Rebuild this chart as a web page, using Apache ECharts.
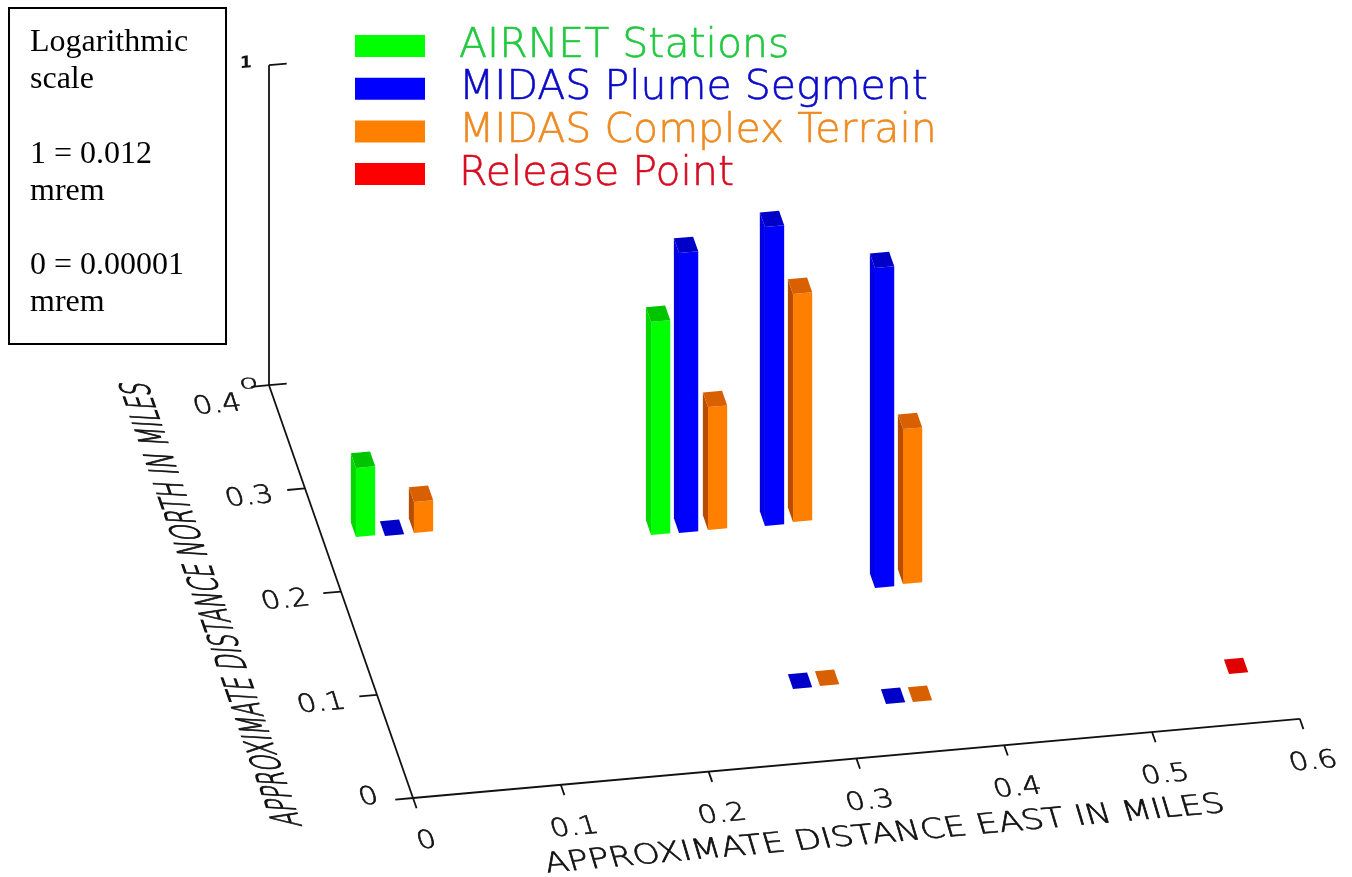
<!DOCTYPE html>
<html><head><meta charset="utf-8">
<style>html,body{margin:0;padding:0;background:#fff}#c{width:1352px;height:877px}</style>
<script src="https://cdn.jsdelivr.net/npm/echarts@6/dist/echarts.min.js"></script>
</head><body><div id="c"></div>
<script>
// ---- data (miles east, miles north, 0-1 log height) ----
const airnetEast  = [0.0223, 0.2164];
const airnetNorth = [0.2500, 0.2272];
const airnetHeight= [0.216, 0.666];
const plumeEast   = [0.0416, 0.2352, 0.2932, 0.3512, 0.2743, 0.3319];
const plumeNorth  = [0.2486, 0.2267, 0.2261, 0.1585, 0.0706, 0.0487];
const plumeHeight = [0, 0.875, 0.934, 1.0, 0, 0];
const terrainEast = [0.0613, 0.2549, 0.3125, 0.3705, 0.2927, 0.3500];
const terrainNorth= [0.2490, 0.2271, 0.2275, 0.1600, 0.0711, 0.0483];
const terrainHeight=[0.097, 0.384, 0.7125, 0.484, 0, 0];
const releaseEast = [0.5638];
const releaseNorth= [0.0480];
const releaseHeight=[0];
const eastTicks  = [0, 0.1, 0.2, 0.3, 0.4, 0.5, 0.6];
const eastLabels = ['0', '0.1', '0.2', '0.3', '0.4', '0.5', '0.6'];
const northTicks = [0, 0.1, 0.2, 0.3, 0.4];
const northLabels= ['0', '0.1', '0.2', '0.3', '0.4'];
const heightTicks= [0, 1];
const heightLabels=['0', '1'];
const eastTitle  = 'APPROXIMATE DISTANCE EAST IN MILES';
const northTitle = 'APPROXIMATE DISTANCE NORTH IN MILES';
const seriesNames= ['AIRNET Stations', 'MIDAS Plume Segment', 'MIDAS Complex Terrain', 'Release Point'];
const noteLines  = ['Logarithmic', 'scale', '', '1 = 0.012', 'mrem', '', '0 = 0.00001', 'mrem'];

// ---- oblique projection: miles east / north / height onto a flat hidden plane ----
const PX_X = 1478, PX_Y = 320;                 // pixels per plane unit
const NORTH_SHEAR_X = 360 / PX_X;              // plane x lost per mile north
const EAST_RISE = 132 / PX_Y, NORTH_RISE = 1032 / PX_Y; // plane y gained per mile
const toPlane = (e, n, z) => [e - NORTH_SHEAR_X * n, EAST_RISE * e + NORTH_RISE * n + z];
const BAR_E = 0.0130, BAR_N = 0.0142;

const FONT = '"DejaVu Sans"';
const measureCtx = document.createElement('canvas').getContext('2d');
function textWidth(t, size, weight) { measureCtx.font = weight + ' ' + size + 'px ' + FONT; return measureCtx.measureText(t).width; }

// a text element whose baseline runs along vector U and whose glyph "down" runs along V
function planeText(api, t, e, n, z, dirU, dirV, o) {
  const P = (a, b, c) => api.coord(toPlane(a, b, c));
  const p0 = P(0, 0, 0);
  const vec = d => { const q = P(d[0], d[1], d[2]); const dx = q[0]-p0[0], dy = q[1]-p0[1], l = Math.hypot(dx, dy); return [dx/l, dy/l]; };
  const U = vec(dirU), V = vec(dirV);
  const F = o.size, w = o.weight || 200;
  const sxWant = o.width ? o.width / textWidth(t, F, w) : o.stretch;
  const vs = o.height / (0.73 * F);
  const r = Math.atan2(-U[1], U[0]);
  const c = Math.cos(r), s = Math.sin(r);
  const a = (V[0]*c - V[1]*s) * vs, b = (V[0]*s + V[1]*c) * vs;
  const p = P(e, n, z);
  return {
    type: 'text', x: p[0], y: p[1], rotation: r, scaleX: sxWant, scaleY: b, skewX: Math.atan(a / sxWant),
    style: { text: t, x: 0, y: 0, fontFamily: FONT, fontSize: F, fontWeight: w, fill: '#111', stroke: '#111', lineWidth: o.bold || 0.55, align: o.align || 'center', verticalAlign: 'middle' }
  };
}

// ---- axis line segments and labels, built from the tick arrays ----
const AX = 0.012, AXN = 0.0100;
const segments = [
  [0,0,0, 0.6,0,0], [0,0,0, 0,0.4,0], [0,0.4,0, 0,0.4,1]
];
eastTicks.forEach(t => segments.push([t,0,0, t,-AXN,0]));
northTicks.forEach(t => segments.push([0,t,0, -AX,t,0]));
heightTicks.forEach(t => segments.push([0,0.4,t, AX,0.4,t]));

const E = [1,0,0], N = [0,1,0], Dn = [0,-1,0];
const labelSpecs = [];
eastTicks.forEach((t,i) => labelSpecs.push({t:eastLabels[i], p:[t-0.001,-0.042,0], u:E, v:Dn, o:{size:22, stretch:1.36, height:19}}));
northTicks.forEach((t,i) => labelSpecs.push({t:northLabels[i], p:[-0.0225, i===4 ? 0.385 : (i===0 ? 0.004 : t-0.004), 0], u:E, v:Dn, o:{size:22, stretch:1.36, height:19, align:'right'}}));
labelSpecs.push({t:heightLabels[0], p:[-0.0135,0.4,0.007], u:E, v:Dn, o:{size:22, stretch:1.4, height:11}});
labelSpecs.push({t:heightLabels[1], p:[-0.0156,0.4,1.012], u:E, v:[0,0,-1], o:{size:22, stretch:0.8, height:12, weight:700, bold:0.01}});
labelSpecs.push({t:eastTitle, p:[0.301,-0.0744,0], u:E, v:Dn, o:{size:24, width:682, height:21}});
labelSpecs.push({t:northTitle, p:[-0.0862,0.199,0], u:N, v:E, o:{size:24, width:470, height:28, bold:0.8}});

// ---- one 3-D bar ----
const shades = {
  [seriesNames[0]]: {front:'#00ff00', side:'#00d800', top:'#00c400'},
  [seriesNames[1]]: {front:'#0000ff', side:'#0000e4', top:'#0000c8'},
  [seriesNames[2]]: {front:'#ff8000', side:'#b84c00', top:'#d96000'},
  [seriesNames[3]]: {front:'#ff0000', side:'#c00000', top:'#e00000'}
};
function barItem(params, api) {
  const e = api.value(0), n = api.value(1), z = api.value(2);
  const P = (a, b, c) => api.coord(toPlane(a, b, c));
  const s = shades[params.seriesName];
  const e2 = e + BAR_E, n2 = n + BAR_N;
  const poly = (pts, fill) => ({type:'polygon', shape:{points:pts}, style:{fill, stroke:null}});
  const kids = [];
  if (z > 0) {
    kids.push(poly([P(e,n,0),P(e,n2,0),P(e,n2,z),P(e,n,z)], s.side));
    kids.push(poly([P(e,n,0),P(e2,n,0),P(e2,n,z),P(e,n,z)], s.front));
  }
  kids.push(poly([P(e,n,z),P(e2,n,z),P(e2,n2,z),P(e,n2,z)], s.top));
  return {type:'group', children:kids};
}
const rows = (a,b,c) => a.map((v,i) => [v,b[i],c[i]]);
const barSeries = (name, color, a, b, c) => ({
  name, type:'custom', coordinateSystem:'cartesian2d', clip:false, silent:true,
  itemStyle:{color}, encode:{x:0,y:1}, data:rows(a,b,c), renderItem:barItem
});

const legendText = c => ({color:c, textBorderColor:c, textBorderWidth:0.6});
const chart = echarts.init(document.getElementById('c'), null, {renderer:'canvas'});
chart.setOption({
  animation:false, backgroundColor:'#fff', tooltip:{show:false},
  grid:{left:0, top:0, width:1352, height:877},
  xAxis:{type:'value', show:false, min:-413/PX_X, max:(1352-413)/PX_X},
  yAxis:{type:'value', show:false, min:(798-877)/PX_Y, max:798/PX_Y},
  legend:{
    orient:'vertical', left:355, top:25, padding:0, icon:'rect', itemWidth:70, itemHeight:22, itemGap:0.7,
    selectedMode:false,
    textStyle:{fontFamily:FONT, fontSize:41, lineHeight:40, fontWeight:200, padding:[2,0,0,29]},
    data:[
      {name:seriesNames[0], textStyle:legendText('#22c840')},
      {name:seriesNames[1], textStyle:legendText('#0a0ac8')},
      {name:seriesNames[2], textStyle:legendText('#ee8a20')},
      {name:seriesNames[3], textStyle:legendText('#d80a20')}
    ]
  },
  graphic:[
    {type:'rect', left:8, top:7, shape:{width:217, height:336}, style:{fill:'#fff', stroke:'#000', lineWidth:2}, z:10},
    {type:'text', left:30, top:24, z:11, style:{text:noteLines.join('\n'), fontFamily:'"Liberation Serif"', fontSize:32, lineHeight:37.2, fill:'#000'}}
  ],
  series:[
    {name:'axes', type:'custom', coordinateSystem:'cartesian2d', clip:false, silent:true,
     data:segments.map((s,i)=>[i,0]), encode:{x:0,y:1},
     renderItem(params, api){
       const s = segments[params.dataIndex];
       const a = api.coord(toPlane(s[0],s[1],s[2])), b = api.coord(toPlane(s[3],s[4],s[5]));
       return {type:'line', shape:{x1:a[0],y1:a[1],x2:b[0],y2:b[1]}, style:{stroke:'#111', lineWidth:1.8, fill:null}};
     }},
    {name:'labels', type:'custom', coordinateSystem:'cartesian2d', clip:false, silent:true,
     data:labelSpecs.map((s,i)=>[i,0]), encode:{x:0,y:1},
     renderItem(params, api){
       const s = labelSpecs[params.dataIndex];
       return planeText(api, s.t, s.p[0], s.p[1], s.p[2], s.u, s.v, s.o);
     }},
    barSeries(seriesNames[0], '#00ff00', airnetEast, airnetNorth, airnetHeight),
    barSeries(seriesNames[1], '#0000ff', plumeEast, plumeNorth, plumeHeight),
    barSeries(seriesNames[2], '#ff8000', terrainEast, terrainNorth, terrainHeight),
    barSeries(seriesNames[3], '#ff0000', releaseEast, releaseNorth, releaseHeight)
  ]
});
</script></body></html>
